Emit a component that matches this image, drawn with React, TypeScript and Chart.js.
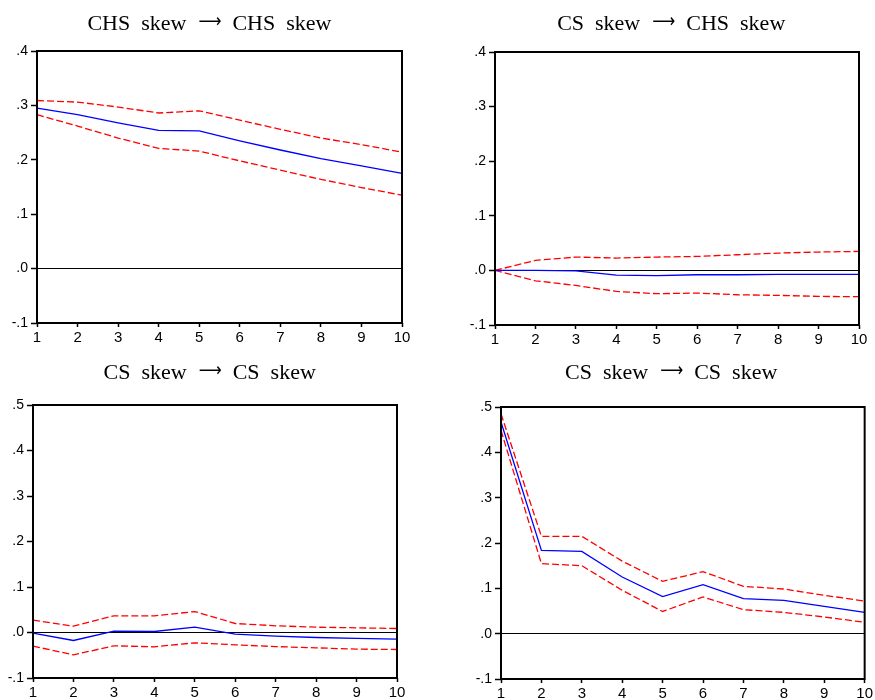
import React, { useEffect, useRef } from "react";
import { Chart, registerables } from "chart.js";

Chart.register(...registerables);

const xLabels = ["1", "2", "3", "4", "5", "6", "7", "8", "9", "10"];

const yTickLabelsTop = ["-.1", ".0", ".1", ".2", ".3", ".4"];
const yTickLabelsBottom = ["-.1", ".0", ".1", ".2", ".3", ".4", ".5"];

const arrowGlyph = "\u27F6";
const titleP1 = ["CHS  skew", "CHS  skew"];
const titleP2 = ["CS  skew", "CHS  skew"];
const titleP3 = ["CS  skew", "CS  skew"];
const titleP4 = ["CS  skew", "CS  skew"];

const p1Response = [0.295, 0.283, 0.268, 0.254, 0.253, 0.235, 0.218, 0.202, 0.189, 0.175];
const p1Upper = [0.309, 0.306, 0.297, 0.286, 0.29, 0.273, 0.256, 0.24, 0.228, 0.214];
const p1Lower = [0.283, 0.262, 0.24, 0.221, 0.216, 0.198, 0.181, 0.164, 0.149, 0.135];

const p2Response = [0.0, 0.0, -0.001, -0.0085, -0.0097, -0.008, -0.008, -0.0073, -0.0073, -0.0073];
const p2Upper = [0.0, 0.0183, 0.0244, 0.0226, 0.0244, 0.0256, 0.0287, 0.0317, 0.0336, 0.0348];
const p2Lower = [0.0, -0.019, -0.0275, -0.0385, -0.0427, -0.0415, -0.0446, -0.0458, -0.0476, -0.0482];

const p3Response = [-0.0015, -0.0176, 0.003, 0.0022, 0.0117, -0.0037, -0.008, -0.011, -0.013, -0.0147];
const p3Upper = [0.027, 0.014, 0.0366, 0.0366, 0.046, 0.0198, 0.0147, 0.0117, 0.0103, 0.0088];
const p3Lower = [-0.03, -0.049, -0.0293, -0.0315, -0.0227, -0.027, -0.031, -0.0337, -0.0366, -0.0374];

const p4Response = [0.467, 0.1838, 0.1816, 0.125, 0.0816, 0.108, 0.0772, 0.0735, 0.06, 0.047];
const p4Upper = [0.485, 0.2147, 0.2147, 0.16, 0.1154, 0.1368, 0.1044, 0.0985, 0.0846, 0.072];
const p4Lower = [0.4485, 0.1544, 0.15, 0.0956, 0.049, 0.081, 0.053, 0.047, 0.0368, 0.025];

type PanelProps = {
  title: string[];
  titleCenter: number;
  titleBaseline: number;
  yLabels: string[];
  yMax: number;
  response: number[];
  upper: number[];
  lower: number[];
  left: number;
  top: number;
  width: number;
  height: number;
  axisWidth: number;
  padRight: number;
  padTop: number;
  xAxisHeight: number;
};

const framePlugin = {
  id: "frame",
  afterDraw(chart: any) {
    const { ctx, chartArea } = chart;
    ctx.save();
    ctx.strokeStyle = "#000";
    ctx.lineWidth = 2;
    ctx.strokeRect(chartArea.left, chartArea.top, chartArea.right - chartArea.left, chartArea.bottom - chartArea.top);
    ctx.restore();
  },
};

const splitTitlePlugin = {
  id: "splitTitle",
  afterDraw(chart: any, _args: any, opts: any) {
    const { ctx } = chart;
    ctx.save();
    ctx.fillStyle = "#000";
    ctx.textAlign = "left";
    ctx.textBaseline = "alphabetic";
    const textFont = "22px 'Liberation Serif', 'Times New Roman', serif";
    const arrowFont = "19px 'DejaVu Sans', sans-serif";
    ctx.font = textFont;
    const lw = ctx.measureText(opts.left).width;
    const rw = ctx.measureText(opts.right).width;
    ctx.font = arrowFont;
    const aw0 = ctx.measureText(opts.arrow).width || 1;
    const aw = 23;
    const g1 = 12;
    const g2 = 11;
    const total = lw + g1 + aw + g2 + rw;
    const x0 = opts.center - total / 2;
    const base = opts.baseline;
    ctx.font = textFont;
    ctx.fillText(opts.left, x0, base);
    ctx.fillText(opts.right, x0 + lw + g1 + aw + g2, base);
    ctx.font = arrowFont;
    ctx.save();
    ctx.translate(x0 + lw + g1, base - 3);
    ctx.scale(aw / aw0, 1);
    ctx.fillText(opts.arrow, 0, 0);
    ctx.restore();
    ctx.restore();
  },
};

function Panel(p: PanelProps) {
  const ref = useRef<HTMLCanvasElement>(null);
  useEffect(() => {
    if (!ref.current) return;
    const chart = new Chart(ref.current, {
      type: "line",
      data: {
        labels: xLabels,
        datasets: [
          {
            data: p.response,
            borderColor: "#0000ff",
            borderWidth: 1.3,
            pointRadius: 0,
            tension: 0,
          },
          {
            data: p.upper,
            borderColor: "#ff0000",
            borderWidth: 1.3,
            borderDash: [7, 3],
            pointRadius: 0,
            tension: 0,
          },
          {
            data: p.lower,
            borderColor: "#ff0000",
            borderWidth: 1.3,
            borderDash: [7, 3],
            pointRadius: 0,
            tension: 0,
          },
        ],
      },
      options: {
        responsive: false,
        animation: false,
        devicePixelRatio: 1,
        layout: { padding: { left: 0, right: p.padRight, top: p.padTop, bottom: 0 } },
        plugins: {
          legend: { display: false },
          tooltip: { enabled: false },
          title: { display: false },
          splitTitle: {
            left: p.title[0],
            right: p.title[1],
            arrow: arrowGlyph,
            center: p.titleCenter,
            baseline: p.titleBaseline,
          },
        } as any,
        scales: {
          x: {
            type: "category",
            offset: false,
            grid: {
              display: true,
              drawOnChartArea: false,
              color: "rgba(0,0,0,0)",
              tickColor: "#000",
              tickLength: 4,
              tickWidth: 1.5,
            },
            border: { display: false },
            ticks: {
              color: "#000",
              font: { family: "'Liberation Sans', Arial, sans-serif", size: 15 },
              padding: 2,
              maxRotation: 0,
              autoSkip: false,
            },
            afterFit(scale: any) {
              scale.height = p.xAxisHeight;
            },
          },
          y: {
            type: "linear",
            min: -0.1,
            max: p.yMax,
            grid: {
              display: true,
              color: (ctx: any) => (ctx.tick && Math.abs(ctx.tick.value) < 1e-9 ? "#000" : "rgba(0,0,0,0)"),
              lineWidth: 1,
              tickColor: "#000",
              tickLength: 6,
              tickWidth: 1.5,
            },
            border: { display: false },
            ticks: {
              stepSize: 0.1,
              color: "#000",
              font: { family: "'Liberation Sans', Arial, sans-serif", size: 14 },
              padding: 3,
              callback: (value: any) => {
                const idx = Math.round(Number(value) * 10) + 1;
                return p.yLabels[idx] ?? "";
              },
            },
            afterFit(scale: any) {
              scale.width = p.axisWidth;
            },
          },
        },
      },
      plugins: [framePlugin, splitTitlePlugin],
    });
    return () => chart.destroy();
  }, []);
  return (
    <div style={{ position: "absolute", left: p.left, top: p.top, width: p.width, height: p.height }}>
      <canvas ref={ref} width={p.width} height={p.height} style={{ display: "block" }} />
    </div>
  );
}

export default function App() {
  return (
    <div style={{ position: "absolute", left: 0, top: 0, width: 875, height: 700, background: "#fff" }}>
      <Panel
        title={titleP1}
        titleCenter={209.4}
        titleBaseline={30}
        yLabels={yTickLabelsTop}
        yMax={0.4}
        response={p1Response}
        upper={p1Upper}
        lower={p1Lower}
        left={0}
        top={0}
        width={420}
        height={350}
        axisWidth={37}
        padRight={18}
        padTop={51}
        xAxisHeight={27}
      />
      <Panel
        title={titleP2}
        titleCenter={231.2}
        titleBaseline={29.5}
        yLabels={yTickLabelsTop}
        yMax={0.4}
        response={p2Response}
        upper={p2Upper}
        lower={p2Lower}
        left={440}
        top={0}
        width={435}
        height={350}
        axisWidth={55}
        padRight={16}
        padTop={52}
        xAxisHeight={25}
      />
      <Panel
        title={titleP3}
        titleCenter={209.7}
        titleBaseline={28.5}
        yLabels={yTickLabelsBottom}
        yMax={0.5}
        response={p3Response}
        upper={p3Upper}
        lower={p3Lower}
        left={0}
        top={350}
        width={420}
        height={350}
        axisWidth={33}
        padRight={23}
        padTop={55}
        xAxisHeight={22}
      />
      <Panel
        title={titleP4}
        titleCenter={231.2}
        titleBaseline={28.5}
        yLabels={yTickLabelsBottom}
        yMax={0.5}
        response={p4Response}
        upper={p4Upper}
        lower={p4Lower}
        left={440}
        top={350}
        width={435}
        height={350}
        axisWidth={61}
        padRight={10}
        padTop={57}
        xAxisHeight={21}
      />
    </div>
  );
}
